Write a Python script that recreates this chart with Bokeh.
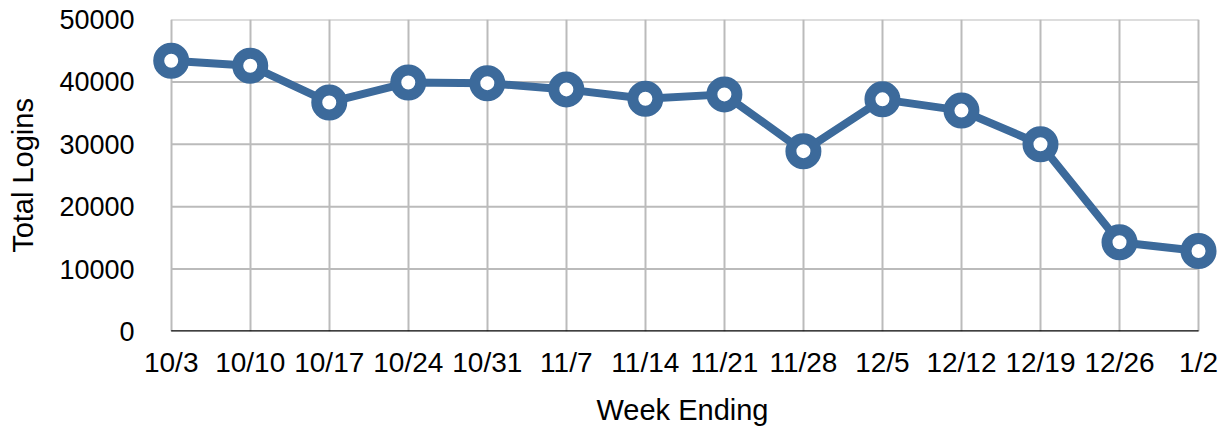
from bokeh.plotting import figure
from bokeh.models import Range1d, FixedTicker
from bokeh.embed import file_html
from bokeh.resources import INLINE

weeks = ["10/3", "10/10", "10/17", "10/24", "10/31", "11/7", "11/14",
         "11/21", "11/28", "12/5", "12/12", "12/19", "12/26", "1/2"]
logins = [43400, 42600, 36700, 39900, 39800, 38800, 37300,
          38000, 28900, 37200, 35400, 30000, 14300, 12900]
y_ticks = [0, 10000, 20000, 30000, 40000, 50000]

BLUE = "#3C6A9B"
GRID = "#BBBBBB"
FONT = "Liberation Sans"

xs = list(range(len(weeks)))
last = xs[-1]

p = figure(frame_width=1070, frame_height=312, output_backend="svg",
           toolbar_location=None,
           x_range=Range1d(-0.3, last + 0.24), y_range=Range1d(y_ticks[0], y_ticks[-1]),
           min_border_left=147, min_border_right=6, min_border_top=19,
           min_border_bottom=0)
p.outline_line_color = None
p.background_fill_color = "white"
p.border_fill_color = "white"

# grid
p.xaxis.ticker = FixedTicker(ticks=xs)
p.xgrid.ticker = FixedTicker(ticks=xs)
p.xgrid.grid_line_color = GRID
p.xgrid.grid_line_width = 2
p.ygrid.visible = False
hy = y_ticks[1:]
p.segment(x0=[xs[0]] * len(hy), x1=[last] * len(hy), y0=hy, y1=hy,
          line_color=GRID, line_width=2)
p.segment(x0=[xs[0]], x1=[last], y0=[y_ticks[0]], y1=[y_ticks[0]],
          line_color="black", line_width=2.5)

# data
p.line(xs, logins, line_color=BLUE, line_width=8)
p.scatter(xs, logins, marker="circle", size=25, line_width=11,
          line_color=BLUE, fill_color="white")

# x axis
xa = p.xaxis[0]
xa.major_label_overrides = {i: w for i, w in enumerate(weeks)}
xa.axis_line_color = None
xa.major_tick_line_color = None
xa.minor_tick_line_color = None
xa.major_label_standoff = 9
xa.major_label_text_font = FONT
xa.major_label_text_font_size = "28px"
xa.major_label_text_color = "black"
xa.axis_label = "Week Ending"
xa.axis_label_text_font = FONT
xa.axis_label_text_font_size = "29px"
xa.axis_label_text_font_style = "normal"
xa.axis_label_text_color = "black"
xa.axis_label_standoff = 13

# y axis
ya = p.yaxis[0]
ya.ticker = FixedTicker(ticks=y_ticks)
ya.axis_line_color = None
ya.major_tick_line_color = None
ya.minor_tick_line_color = None
ya.major_label_standoff = 7
ya.major_label_text_font = FONT
ya.major_label_text_font_size = "27px"
ya.major_label_text_color = "black"
ya.axis_label = "Total Logins"
ya.axis_label_text_font = FONT
ya.axis_label_text_font_size = "29px"
ya.axis_label_text_font_style = "normal"
ya.axis_label_text_color = "black"
ya.axis_label_standoff = 17

open("out.html", "w").write(file_html(p, INLINE))
